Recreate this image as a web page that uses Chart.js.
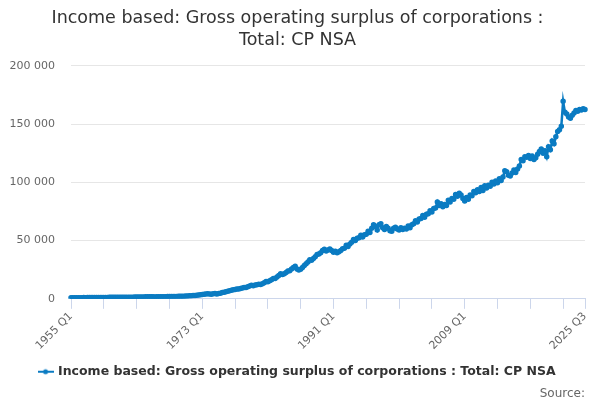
<!DOCTYPE html>
<html>
<head>
<meta charset="utf-8">
<script src="https://cdn.jsdelivr.net/npm/chart.js@4"></script>
<style>
  html, body { margin: 0; padding: 0; background: #fff; }
  #wrap { width: 600px; height: 400px; }
</style>
</head>
<body>
<div id="wrap"><canvas id="myChart"></canvas></div>
<script>
const firstYear = 1955;
const lastYear = 2025;
const lastQuarter = 3;

// quarterly values, 1955 Q1 .. 2025 Q3 (one row per year)
const gosValues = [
  880, 920, 950, 990,
  960, 1000, 1010, 1040,
  1020, 1050, 1060, 1090,
  1050, 1070, 1080, 1110,
  1100, 1150, 1180, 1230,
  1230, 1280, 1290, 1320,
  1290, 1310, 1300, 1330,
  1290, 1320, 1330, 1370,
  1360, 1420, 1460, 1530,
  1530, 1580, 1600, 1650,
  1630, 1680, 1700, 1740,
  1680, 1690, 1660, 1700,
  1690, 1750, 1780, 1840,
  1860, 1920, 1960, 2050,
  2030, 2080, 2100, 2150,
  2120, 2200, 2250, 2350,
  2450, 2600, 2700, 2850,
  2900, 3050, 3200, 3400,
  3700, 3900, 4100, 4300,
  4200, 4000, 4300, 4600,
  4200, 4500, 4800, 5400,
  5600, 6100, 6400, 6900,
  7300, 7700, 7900, 8400,
  8500, 8900, 9300, 9800,
  9700, 10300, 11000, 11600,
  11300, 11800, 12000, 12600,
  12400, 13000, 13900, 14800,
  14600, 15600, 16400, 17500,
  17500, 18800, 20000, 21500,
  20800, 21500, 22500, 23800,
  24000, 25500, 26800, 28000,
  25500, 24800, 25300, 26800,
  28500, 30000, 31500, 33500,
  33000, 34500, 36000, 38000,
  38500, 39500, 41500, 42500,
  41000, 42000, 42800, 41500,
  40000, 40800, 39500, 40500,
  41500, 43000, 43500, 46000,
  45000, 47000, 48500, 51000,
  50000, 52000, 52500, 54500,
  53000, 55000, 55500, 58000,
  57000, 60500, 63500, 62000,
  59000, 63500, 64500, 61000,
  59500, 62000, 60500, 58500,
  58000, 60500, 61500, 60000,
  59000, 61000, 59500, 60500,
  60000, 62500, 61000, 63500,
  64500, 67000, 66000, 68500,
  69000, 71500, 70000, 72500,
  73000, 75500, 74500, 77500,
  78000, 83000, 80000, 81500,
  79000, 81000, 80000, 84500,
  83000, 86000, 85500, 89500,
  88000, 90500, 89000, 86000,
  84000, 87000, 85500, 89000,
  88500, 92000, 91000, 93500,
  92000, 95500, 93000, 97000,
  95000, 97500, 96500, 100000,
  98500, 101000, 99500, 103000,
  101500, 104500, 110000, 109000,
  106000, 105500, 108000, 110500,
  108500, 111500, 114000, 119500,
  118500, 122000, 121500, 123000,
  120500, 122500, 119500, 121000,
  124000, 126500, 128500, 125000,
  127000, 122000, 130500, 128000,
  135500, 133000, 139000, 143500,
  145000, 148000, 169500, 160000,
  158500, 156000, 155000, 157500,
  159500, 161500, 161000, 162500,
  162000, 163000, 162500
];

const quarterLabels = [];
for (let y = firstYear; y <= lastYear; y++) {
  for (let q = 1; q <= 4; q++) {
    if (y === lastYear && q > lastQuarter) break;
    quarterLabels.push(y + ' Q' + q);
  }
}

const yTicks = [0, 50000, 100000, 150000, 200000];
const seriesName = 'Income based: Gross operating surplus of corporations : Total: CP NSA';
const lineColor = '#0a7bc2';
const lastIdx = quarterLabels.length - 1;

// legend marker: short line with a dot
const marker = document.createElement('canvas');
marker.width = 16; marker.height = 8;
const mctx = marker.getContext('2d');
mctx.strokeStyle = lineColor; mctx.lineWidth = 2;
mctx.beginPath(); mctx.moveTo(0, 4); mctx.lineTo(16, 4); mctx.stroke();
mctx.fillStyle = lineColor;
mctx.beginPath(); mctx.arc(8, 4, 2.5, 0, Math.PI * 2); mctx.fill();

const ctx = document.getElementById('myChart').getContext('2d');
let chart = new Chart(ctx, {
  type: 'line',
  data: {
    labels: quarterLabels,
    datasets: [{
      label: seriesName,
      data: gosValues,
      borderColor: lineColor,
      backgroundColor: lineColor,
      borderWidth: 2.5,
      pointRadius: 1.5,
      pointHoverRadius: 3,
      tension: 0,
      fill: false
    }]
  },
  options: {
    responsive: true,
    maintainAspectRatio: false,
    animation: false,
    layout: { padding: { left: 10, right: 15, top: 0, bottom: 0 } },
    plugins: {
      title: {
        display: true,
        text: ['Income based: Gross operating surplus of corporations :', 'Total: CP NSA'],
        color: '#333333',
        font: { family: 'DejaVu Sans', size: 17.5, weight: 'normal', lineHeight: 1.25 },
        padding: { top: 8, bottom: 14 }
      },
      subtitle: {
        display: true,
        text: 'Source:',
        position: 'bottom',
        align: 'end',
        color: '#666666',
        font: { family: 'DejaVu Sans', size: 12, lineHeight: 1.0 },
        padding: { top: 0, bottom: 0 }
      },
      legend: {
        position: 'bottom',
        labels: {
          usePointStyle: true,
          pointStyle: marker,
          color: '#333333',
          font: { family: 'DejaVu Sans', size: 12.5, weight: 'bold' },
          padding: 12
        }
      },
      tooltip: { enabled: false }
    },
    scales: {
      x: {
        type: 'category',
        offset: false,
        border: { color: '#ccd6eb' },
        grid: {
          drawOnChartArea: false,
          tickLength: 10,
          color: (c) => (c.index % 18 === 0 || c.index === lastIdx) ? '#ccd6eb' : 'rgba(0,0,0,0)'
        },
        ticks: {
          autoSkip: false,
          minRotation: 45,
          maxRotation: 45,
          color: '#666666',
          font: { family: 'DejaVu Sans', size: 11 },
          padding: 1,
          callback: function (val, i) {
            return (i % 72 === 0 || i === lastIdx) ? quarterLabels[i] : '';
          }
        }
      },
      y: {
        min: 0,
        max: 200000,
        afterFit: (s) => { s.width = 61; },
        afterBuildTicks: (s) => { s.ticks = yTicks.map(v => ({ value: v })); },
        border: { display: false },
        grid: { color: '#e6e6e6', drawTicks: false },
        ticks: {
          color: '#666666',
          font: { family: 'DejaVu Sans', size: 11 },
          padding: 16,
          callback: (v) => v.toLocaleString('en-US').replace(/,/g, ' ')
        }
      }
    }
  }
});
</script>
</body>
</html>
